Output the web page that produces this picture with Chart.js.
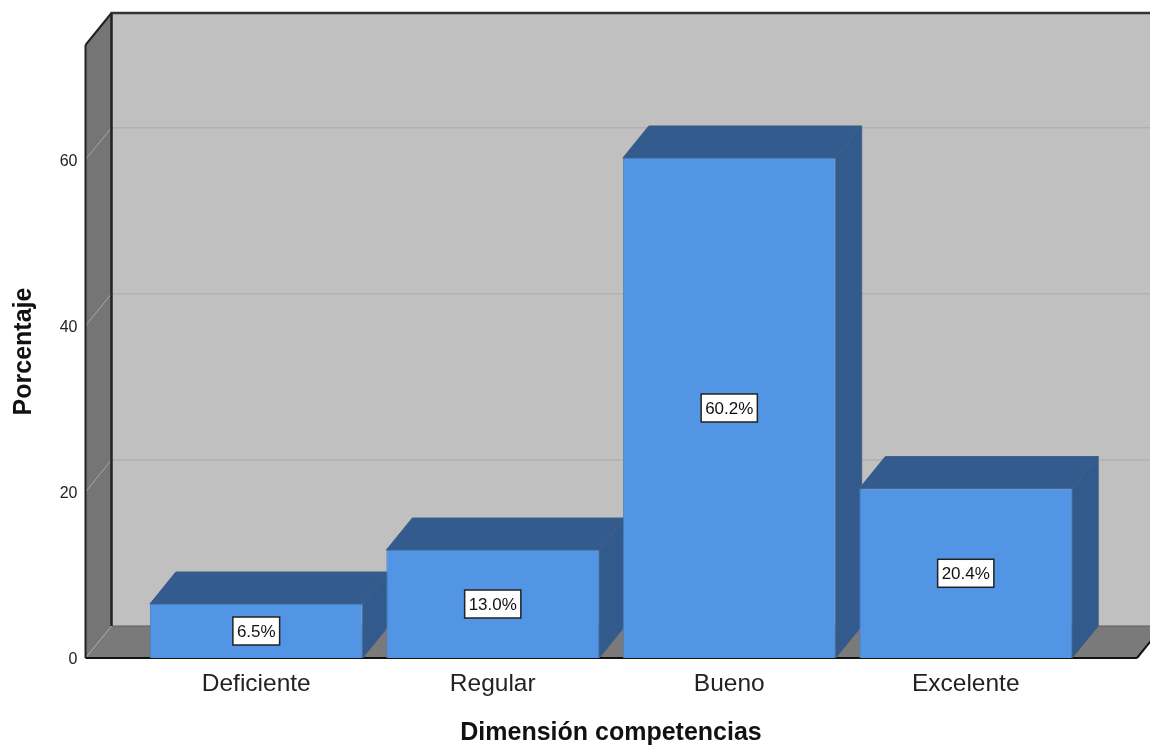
<!DOCTYPE html>
<html>
<head>
<meta charset="utf-8">
<title>Dimensión competencias</title>
<script src="https://cdn.jsdelivr.net/npm/chart.js@4"></script>
<style>
  html, body { margin: 0; padding: 0; background: #fff; overflow: hidden; }
  canvas { display: block; }
</style>
</head>
<body>
<canvas id="barChart" width="1150" height="746"></canvas>
<script>
// Chart data
const categories = ['Deficiente', 'Regular', 'Bueno', 'Excelente'];
const percentages = [6.5, 13.0, 60.2, 20.4];
const percentLabels = ['6.5%', '13.0%', '60.2%', '20.4%'];
const xTitle = 'Dimensión competencias';
const yTitle = 'Porcentaje';

// 3D look: how far the back of the box sits from the front
const depthX = 26;
const depthY = 32;

function poly(ctx, pts, fill, stroke, lw) {
    ctx.beginPath();
    pts.forEach((p, i) => i ? ctx.lineTo(p[0], p[1]) : ctx.moveTo(p[0], p[1]));
    ctx.closePath();
    if (fill) { ctx.fillStyle = fill; ctx.fill(); }
    if (stroke) { ctx.strokeStyle = stroke; ctx.lineWidth = lw || 1; ctx.stroke(); }
}

function line(ctx, x1, y1, x2, y2, color, lw) {
    ctx.beginPath();
    ctx.moveTo(x1, y1);
    ctx.lineTo(x2, y2);
    ctx.strokeStyle = color;
    ctx.lineWidth = lw;
    ctx.stroke();
}

// Walls, floor, grid lines and the side/top faces of the bars
const boxPlugin = {
    id: 'box3d',
    beforeDatasetsDraw(chart) {
        const ctx = chart.ctx;
        const area = chart.chartArea;
        const yScale = chart.scales.y;
        const left = 85.5;
        const right = 1137;
        const top = area.top;
        const bottom = area.bottom;
        const backX = left + depthX;
        const backTop = top - depthY;
        const backBottom = bottom - depthY;

        ctx.save();
        // back wall
        poly(ctx, [[backX, backTop], [right + depthX, backTop], [right + depthX, backBottom], [backX, backBottom]], '#c0c0c0');
        // left wall
        poly(ctx, [[left, top], [backX, backTop], [backX, backBottom], [left, bottom]], '#757575');
        // floor
        poly(ctx, [[left, bottom], [backX, backBottom], [right + depthX, backBottom], [right, bottom]], '#7a7a7a');
        line(ctx, backX, backBottom, right + depthX, backBottom, '#5f5f5f', 1);
        line(ctx, left, bottom, backX, backBottom, '#a8a8a8', 1);

        // grid lines from the y ticks
        yScale.ticks.forEach(t => {
            if (t.value === 0) return;
            const y = yScale.getPixelForValue(t.value);
            line(ctx, left, y, backX, y - depthY, '#a6a6a6', 1);
            line(ctx, backX, y - depthY, right + depthX, y - depthY, '#b0b0b0', 1.5);
        });

        // frame
        line(ctx, left, top, left, bottom, '#222', 2);
        line(ctx, left, top, backX, backTop, '#222', 2);
        line(ctx, backX, backTop, backX, backBottom, '#222', 2.5);
        line(ctx, backX - 1, backTop, right + depthX, backTop, '#333', 2.5);
        line(ctx, left, bottom, right, bottom, '#111', 2);
        line(ctx, right, bottom, right + depthX, backBottom, '#111', 2);

        // bar side and top faces
        chart.getDatasetMeta(0).data.forEach(bar => {
            const x1 = bar.x - bar.width / 2;
            const x2 = bar.x + bar.width / 2;
            poly(ctx, [[x1, bar.y], [x1 + depthX, bar.y - depthY], [x2 + depthX, bar.y - depthY], [x2, bar.y]], '#345b8e', '#3f5f85', 1);
            poly(ctx, [[x2, bar.y], [x2 + depthX, bar.y - depthY], [x2 + depthX, bar.base - depthY], [x2, bar.base]], '#335a8c', '#3f5f85', 1);
        });
        ctx.restore();
    },
    // white value boxes in the middle of each bar
    afterDatasetsDraw(chart) {
        const ctx = chart.ctx;
        ctx.save();
        ctx.font = '17px "Liberation Sans", Arial, sans-serif';
        ctx.textAlign = 'center';
        ctx.textBaseline = 'middle';
        chart.getDatasetMeta(0).data.forEach((bar, i) => {
            const cx = bar.x;
            const cy = (bar.y + bar.base) / 2;
            const w = ctx.measureText(percentLabels[i]).width + 8;
            const h = 28;
            ctx.fillStyle = '#fff';
            ctx.fillRect(cx - w / 2, cy - h / 2, w, h);
            ctx.strokeStyle = '#222';
            ctx.lineWidth = 1.5;
            ctx.strokeRect(cx - w / 2, cy - h / 2, w, h);
            ctx.fillStyle = '#111';
            ctx.fillText(percentLabels[i], cx, cy + 1);
        });
        ctx.restore();
    }
};

const ctx = document.getElementById('barChart').getContext('2d');

const barChart = new Chart(ctx, {
    type: 'bar',
    data: {
        labels: categories,
        datasets: [{
            data: percentages,
            backgroundColor: '#5295e5',
            borderColor: '#4a7fbe',
            borderWidth: 1,
            barPercentage: 1,
            categoryPercentage: 0.9
        }]
    },
    options: {
        responsive: false,
        animation: false,
        layout: { padding: { top: 45, right: 66, left: 0, bottom: 0 } },
        plugins: { legend: { display: false }, tooltip: { enabled: false } },
        scales: {
            x: {
                grid: { display: false, drawTicks: false },
                border: { display: false },
                ticks: {
                    color: '#222',
                    padding: 12,
                    font: { family: '"Liberation Sans", Arial, sans-serif', size: 24.5 },
                    maxRotation: 0
                },
                title: {
                    display: true,
                    text: xTitle,
                    color: '#111',
                    padding: 0,
                    font: { family: '"Liberation Sans", Arial, sans-serif', size: 25, weight: 'bold', lineHeight: 1 }
                },
                afterFit(scale) { scale.height = 88; }
            },
            y: {
                min: 0,
                max: 73.8,
                grid: { display: false, drawTicks: false },
                border: { display: false },
                ticks: {
                    stepSize: 20,
                    includeBounds: false,
                    color: '#222',
                    padding: 60.5,
                    labelOffset: 2,
                    font: { family: '"Liberation Sans", Arial, sans-serif', size: 16 }
                },
                title: {
                    display: true,
                    text: yTitle,
                    color: '#111',
                    padding: { top: 12, bottom: 0 },
                    font: { family: '"Liberation Sans", Arial, sans-serif', size: 25, weight: 'bold', lineHeight: 1 }
                },
                afterFit(scale) {
                    scale.width = 138;
                    // the large tick padding must not push the plot area down
                    scale.paddingTop = 0;
                    scale.paddingBottom = 0;
                }
            }
        }
    },
    plugins: [boxPlugin]
});
</script>
</body>
</html>
